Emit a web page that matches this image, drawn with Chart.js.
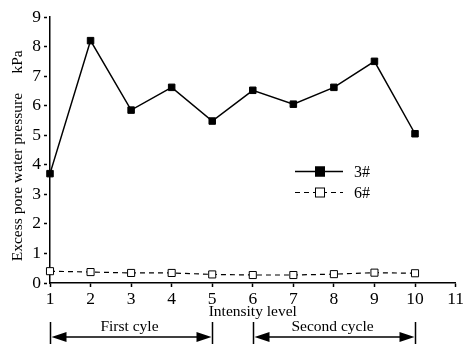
<!DOCTYPE html>
<html>
<head>
<meta charset="utf-8">
<script src="https://cdn.jsdelivr.net/npm/chart.js@4/dist/chart.umd.min.js"></script>
<style>
  html, body { margin: 0; padding: 0; background: #fff; }
  #wrap { width: 466px; height: 344px; }
</style>
</head>
<body>
<div id="wrap"><canvas id="grafico" width="466" height="344"></canvas></div>
<script>
// datos
const niveles = [1, 2, 3, 4, 5, 6, 7, 8, 9, 10];
const serie3 = [3.7, 8.2, 5.85, 6.62, 5.48, 6.52, 6.05, 6.62, 7.5, 5.05];
const serie6 = [0.4, 0.37, 0.34, 0.34, 0.29, 0.27, 0.27, 0.3, 0.35, 0.33];
const nombres = ["3#", "6#"];
const ciclos = ["First cyle", "Second cycle"];
const cicloInicio = [1, 6];
const cicloFin = [5, 10];

const FUENTE = "'Liberation Serif', 'Times New Roman', serif";

// leyenda dentro del area del grafico
const leyendaPlugin = {
  id: "leyenda",
  afterDraw(chart) {
    const ctx = chart.ctx;
    chart.data.datasets.forEach((ds, i) => {
      const y = 171.5 + i * 21;
      ctx.save();
      ctx.strokeStyle = "#000";
      ctx.lineWidth = ds.borderWidth;
      ctx.setLineDash(ds.borderDash || []);
      ctx.beginPath();
      ctx.moveTo(295, y);
      ctx.lineTo(343, y);
      ctx.stroke();
      ctx.setLineDash([]);
      ctx.fillStyle = ds.pointBackgroundColor;
      ctx.fillRect(315, y - 5, 10, 10);
      ctx.lineWidth = 1;
      ctx.strokeRect(315.5, y - 4.5, 9, 9);
      ctx.fillStyle = "#000";
      ctx.font = "16px " + FUENTE;
      ctx.textBaseline = "middle";
      ctx.fillText(ds.label, 354, y + 1);
      ctx.restore();
    });
  }
};

// flechas de ciclos debajo del eje x
const ciclosPlugin = {
  id: "ciclos",
  afterDraw(chart) {
    const ctx = chart.ctx;
    const x = chart.scales.x;
    const yFlecha = 337;
    ctx.save();
    ctx.strokeStyle = "#000";
    ctx.fillStyle = "#000";
    ciclos.forEach((txt, i) => {
      const a = Math.round(x.getPixelForValue(cicloInicio[i])) + 0.5;
      const b = Math.round(x.getPixelForValue(cicloFin[i])) + 0.5;
      ctx.lineWidth = 1.5;
      ctx.beginPath();
      ctx.moveTo(a, 322); ctx.lineTo(a, 344);
      ctx.moveTo(b, 322); ctx.lineTo(b, 344);
      ctx.moveTo(a + 10, yFlecha); ctx.lineTo(b - 10, yFlecha);
      ctx.stroke();
      ctx.beginPath();
      ctx.moveTo(a + 1, yFlecha);
      ctx.lineTo(a + 16, yFlecha - 5);
      ctx.lineTo(a + 16, yFlecha + 5);
      ctx.closePath();
      ctx.moveTo(b - 1, yFlecha);
      ctx.lineTo(b - 16, yFlecha - 5);
      ctx.lineTo(b - 16, yFlecha + 5);
      ctx.closePath();
      ctx.fill();
      ctx.font = "15.5px " + FUENTE;
      ctx.textAlign = "center";
      ctx.textBaseline = "alphabetic";
      ctx.fillText(txt, (a + b) / 2 - 2, 331);
    });
    ctx.restore();
  }
};

new Chart(document.getElementById("grafico"), {
  type: "line",
  data: {
    datasets: [
      {
        label: nombres[0],
        data: niveles.map((n, i) => ({ x: n, y: serie3[i] })),
        borderColor: "#000",
        borderWidth: 1.5,
        pointStyle: "rect",
        pointRadius: 4.6,
        pointBackgroundColor: "#000",
        pointBorderColor: "#000",
        pointBorderWidth: 1,
        tension: 0,
        clip: false
      },
      {
        label: nombres[1],
        data: niveles.map((n, i) => ({ x: n, y: serie6[i] })),
        borderColor: "#000",
        borderWidth: 1.2,
        borderDash: [5, 4],
        pointStyle: "rect",
        pointRadius: 5,
        pointBackgroundColor: "#fff",
        pointBorderColor: "#000",
        pointBorderWidth: 1,
        tension: 0,
        clip: false
      }
    ]
  },
  options: {
    responsive: false,
    animation: false,
    layout: { padding: { top: 17, right: 9, bottom: 22, left: 0 } },
    plugins: { legend: { display: false }, tooltip: { enabled: false } },
    scales: {
      x: {
        type: "linear",
        min: 1,
        max: 11,
        afterFit: (s) => { s.height = 39; },
        border: { color: "#000", width: 1.5 },
        grid: { drawOnChartArea: false, tickLength: 4, tickColor: "#000", tickWidth: 1.5 },
        ticks: { stepSize: 1, color: "#000", padding: 2, font: { family: FUENTE, size: 17.5 } },
        title: {
          display: true,
          text: "Intensity level",
          color: "#000",
          font: { family: FUENTE, size: 15.5, lineHeight: 1.2 },
          padding: { top: 0, bottom: 1 }
        }
      },
      y: {
        min: 0,
        max: 9,
        afterFit: (s) => { s.width = 50; },
        border: { color: "#000", width: 1.5 },
        grid: {
          drawOnChartArea: false,
          tickLength: 6,
          tickColor: "#000",
          tickWidth: 1.5,
          tickBorderDash: [3, 20],
          tickBorderDashOffset: (c) => Number.isInteger(c.tick.value) ? 0 : -3
        },
        ticks: {
          stepSize: 0.5,
          color: "#000",
          padding: 3,
          font: { family: FUENTE, size: 17.5 },
          callback: (v) => Number.isInteger(v) ? v : ""
        },
        title: {
          display: true,
          text: "Excess pore water pressure     kPa   ",
          color: "#000",
          font: { family: FUENTE, size: 15.5, lineHeight: 1.2 },
          padding: { top: 9, bottom: 0 }
        }
      }
    }
  },
  plugins: [leyendaPlugin, ciclosPlugin]
});
</script>
</body>
</html>
